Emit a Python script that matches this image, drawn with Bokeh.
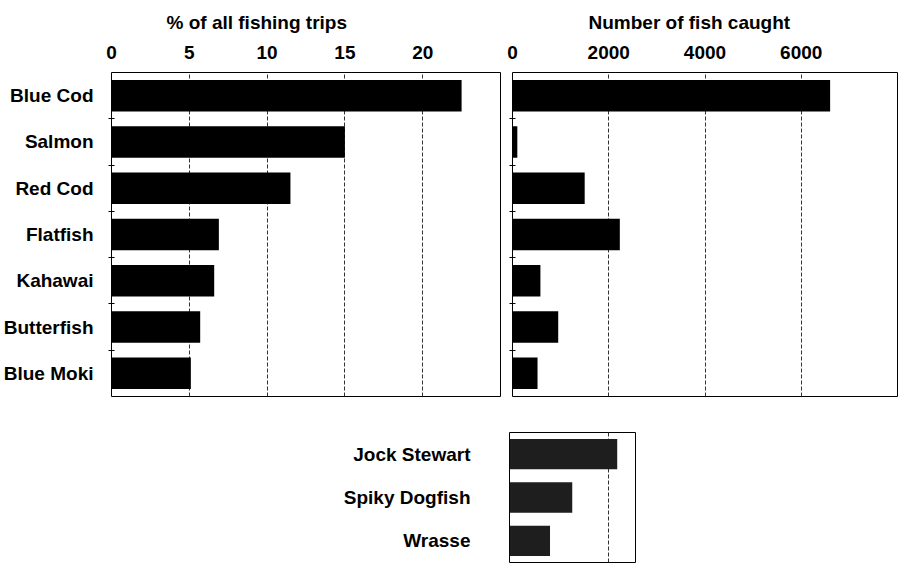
from bokeh.plotting import figure
from bokeh.layouts import column, row
from bokeh.models import FixedTicker, Range1d
from bokeh.embed import file_html
from bokeh.resources import INLINE

species = ["Blue Cod", "Salmon", "Red Cod", "Flatfish", "Kahawai", "Butterfish", "Blue Moki"]
pct_trips = [22.5, 15.0, 11.5, 6.9, 6.6, 5.7, 5.1]
fish_caught = [6600, 100, 1500, 2230, 580, 950, 520]
pct_ticks = [0, 5, 10, 15, 20]
fish_ticks = [0, 2000, 4000, 6000]

other_species = ["Jock Stewart", "Spiky Dogfish", "Wrasse"]
other_caught = [2180, 1270, 820]

FONT = "Liberation Sans"
FS = "19px"


def ypos(cats):
    n = len(cats)
    return [n - i - 0.5 for i in range(n)]


def style_common(p):
    p.outline_line_color = "black"
    p.outline_line_width = 1
    p.background_fill_color = "white"
    p.border_fill_color = "white"
    p.ygrid.visible = False
    p.xgrid.grid_line_color = "#333333"
    p.xgrid.grid_line_dash = "4 2"
    p.xgrid.grid_line_width = 1
    for ax in p.xaxis + p.yaxis:
        ax.axis_line_color = None
        ax.major_label_text_font = FONT
        ax.major_label_text_font_style = "bold"
        ax.major_label_text_font_size = FS
        ax.major_label_text_color = "black"
    for ax in p.xaxis:
        ax.major_tick_line_color = None
        ax.minor_tick_line_color = None
        ax.major_label_standoff = 8


def style_title(p, text, offset):
    p.title.text = text
    p.title.align = "left"
    p.title.offset = offset
    p.title.standoff = 19
    p.title.text_font = FONT
    p.title.text_font_size = FS
    p.title.text_font_style = "bold"
    p.title.text_color = "black"


n = len(species)
yc = ypos(species)
bounds = list(range(1, n))

# Left panel: % of all fishing trips
p1 = figure(width=506, height=403, x_range=Range1d(0, 25), y_range=Range1d(0, n),
            x_axis_location="above", output_backend="svg", toolbar_location=None,
            min_border_left=110, min_border_right=6, min_border_top=72, min_border_bottom=7)
p1.hbar(y=yc, right=pct_trips, left=0, height=0.68, fill_color="black", line_color=None)
p1.xaxis.ticker = FixedTicker(ticks=pct_ticks)
p1.yaxis.ticker = FixedTicker(ticks=yc, minor_ticks=bounds)
p1.yaxis.major_label_overrides = {y: s for y, s in zip(yc, species)}
style_title(p1, "% of all fishing trips", 55)
style_common(p1)
p1.yaxis.major_tick_line_color = None
p1.yaxis.minor_tick_line_color = "black"
p1.yaxis.minor_tick_in = 3
p1.yaxis.minor_tick_out = 3
p1.yaxis.major_label_standoff = 12

# Right panel: number of fish caught
p2 = figure(width=392, height=403, x_range=Range1d(0, 8000), y_range=Range1d(0, n),
            x_axis_location="above", output_backend="svg", toolbar_location=None,
            min_border_left=6, min_border_right=1, min_border_top=72, min_border_bottom=7)
p2.hbar(y=yc, right=fish_caught, left=0, height=0.68, fill_color="black", line_color=None)
p2.xaxis.ticker = FixedTicker(ticks=fish_ticks)
p2.yaxis.ticker = FixedTicker(ticks=[], minor_ticks=bounds)
style_title(p2, "Number of fish caught", 76)
style_common(p2)
p2.yaxis.major_label_standoff = 0
p2.yaxis.major_tick_line_color = None
p2.yaxis.minor_tick_line_color = "black"
p2.yaxis.minor_tick_in = 3
p2.yaxis.minor_tick_out = 3

# Bottom panel: other species caught
m = len(other_species)
yc3 = ypos(other_species)
p3 = figure(width=636, height=160, x_range=Range1d(0, 2550), y_range=Range1d(0, m),
            output_backend="svg", toolbar_location=None,
            min_border_left=509, min_border_right=1, min_border_top=29, min_border_bottom=1)
p3.hbar(y=yc3, right=other_caught, left=0, height=0.70, fill_color="#1e1e1e", line_color=None)
p3.xaxis.ticker = FixedTicker(ticks=[0, 2000])
p3.yaxis.ticker = FixedTicker(ticks=yc3)
p3.yaxis.major_label_overrides = {y: s for y, s in zip(yc3, other_species)}
style_common(p3)
p3.xaxis.visible = False
p3.yaxis.major_tick_line_color = None
p3.yaxis.minor_tick_line_color = None
p3.yaxis.major_label_standoff = 33

layout = column(row(p1, p2), p3)
open("out.html", "w").write(file_html(layout, INLINE))
